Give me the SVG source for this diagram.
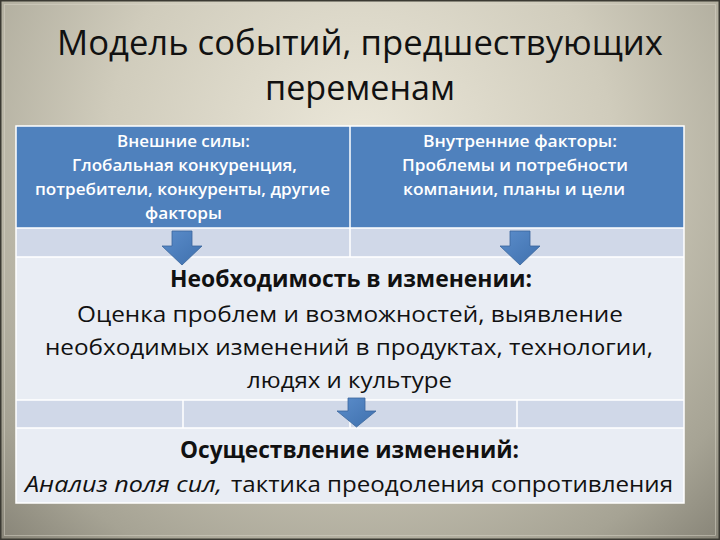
<svg xmlns="http://www.w3.org/2000/svg" width="720" height="540" viewBox="0 0 720 540">
  <defs>
    <radialGradient id="bg" cx="360" cy="150" r="560" gradientUnits="userSpaceOnUse">
      <stop offset="0" stop-color="#ebe7d9"/>
      <stop offset="0.45" stop-color="#d0ccbc"/>
      <stop offset="0.8" stop-color="#a6a394"/>
      <stop offset="1" stop-color="#7c796d"/>
    </radialGradient>
    <linearGradient id="arrowGrad" x1="0" y1="0" x2="1" y2="1">
      <stop offset="0" stop-color="#5b8dcb"/>
      <stop offset="1" stop-color="#3f70ad"/>
    </linearGradient>
    <style>
      .title { font-family: "Open Sans", "Noto Sans", "DejaVu Sans", sans-serif; font-size: 34px; fill: #111; }
      .hdr { font-family: "Open Sans", "Noto Sans", "DejaVu Sans", sans-serif; font-size: 15.5px; font-weight: 600; fill: #ffffff; }
      .body { font-family: "Open Sans", "Noto Sans", "DejaVu Sans", sans-serif; font-size: 22.5px; fill: #111; }
      .bold { font-weight: bold; }
      .ital { font-style: italic; }
      .blue { fill: #4f81bd; }
      .light { fill: #d0d8e8; }
      .pale { fill: #e9edf4; }
      .grid { stroke: #ffffff; stroke-width: 1.5; fill: none; }
      .arrow { fill: url(#arrowGrad); stroke: #3a669c; stroke-width: 0.8; }
    </style>
  </defs>

  <!-- background -->
  <rect x="0" y="0" width="720" height="540" fill="url(#bg)"/>
  <rect x="0.75" y="0.75" width="718.5" height="538.5" fill="none" stroke="#3b3a33" stroke-width="1.5"/>
  <rect x="4.5" y="4.5" width="711" height="531" fill="none" stroke="#dcd9cb" stroke-width="0.8" opacity="0.6"/>

  <!-- title -->
  <g id="title">
    <text class="title" x="57" y="55" textLength="606" lengthAdjust="spacingAndGlyphs">Модель событий, предшествующих</text>
    <text class="title" x="265" y="100" textLength="190" lengthAdjust="spacingAndGlyphs">переменам</text>
  </g>

  <!-- table cells -->
  <g id="table">
    <rect class="blue" x="16" y="126" width="668" height="102"/>
    <rect class="light" x="16" y="228" width="668" height="29"/>
    <rect class="pale" x="16" y="257" width="668" height="143"/>
    <rect class="light" x="16" y="400" width="668" height="28"/>
    <rect class="pale" x="16" y="428" width="668" height="75"/>
    <path class="grid" d="M16,126 H684 V503 H16 Z M16,228 H684 M16,257 H684 M16,400 H684 M16,428 H684 M350,126 V257 M183,400 V428 M350,400 V428 M517,400 V428"/>
  </g>

  <!-- node: external forces -->
  <g id="external">
    <text class="hdr" x="117" y="147" textLength="133" lengthAdjust="spacingAndGlyphs">Внешние силы:</text>
    <text class="hdr" x="72" y="171" textLength="225" lengthAdjust="spacingAndGlyphs">Глобальная конкуренция,</text>
    <text class="hdr" x="35" y="195" textLength="295" lengthAdjust="spacingAndGlyphs">потребители, конкуренты, другие</text>
    <text class="hdr" x="145" y="219" textLength="77" lengthAdjust="spacingAndGlyphs">факторы</text>
  </g>

  <!-- node: internal factors -->
  <g id="internal">
    <text class="hdr" x="423" y="147" textLength="194" lengthAdjust="spacingAndGlyphs">Внутренние факторы:</text>
    <text class="hdr" x="402" y="171" textLength="226" lengthAdjust="spacingAndGlyphs">Проблемы и потребности</text>
    <text class="hdr" x="403" y="195" textLength="222" lengthAdjust="spacingAndGlyphs">компании, планы и цели</text>
  </g>

  <!-- node: need for change -->
  <g id="need">
    <text class="body bold" x="170" y="287" textLength="362" lengthAdjust="spacingAndGlyphs">Необходимость в изменении:</text>
    <text class="body" x="77" y="322" textLength="546" lengthAdjust="spacingAndGlyphs">Оценка проблем и возможностей, выявление</text>
    <text class="body" x="45" y="355" textLength="608" lengthAdjust="spacingAndGlyphs">необходимых изменений в продуктах, технологии,</text>
    <text class="body" x="247" y="388" textLength="205" lengthAdjust="spacingAndGlyphs">людях и культуре</text>
  </g>

  <!-- node: implementation -->
  <g id="implementation">
    <text class="body bold" x="180" y="458" textLength="339" lengthAdjust="spacingAndGlyphs">Осуществление изменений:</text>
    <text class="body ital" x="25" y="492" textLength="197" lengthAdjust="spacingAndGlyphs">Анализ поля сил,</text>
    <text class="body" x="231" y="492" textLength="442" lengthAdjust="spacingAndGlyphs">тактика преодоления сопротивления</text>
  </g>

  <!-- connectors -->
  <g id="connectors">
    <path class="arrow" d="M172,231 H192 V246 H202 L182,265 L162,246 H172 Z"/>
    <path class="arrow" d="M510,231 H530 V246 H540 L520,265 L500,246 H510 Z"/>
    <path class="arrow" d="M348,398 H365 V411 H376 L356.5,427 L337,411 H348 Z"/>
  </g>
</svg>
